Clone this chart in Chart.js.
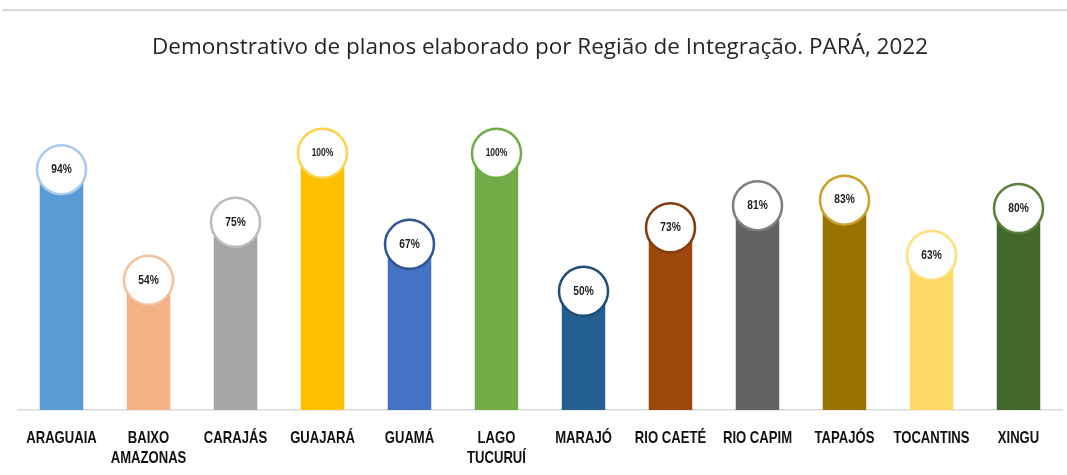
<!DOCTYPE html>
<html>
<head>
<meta charset="utf-8">
<script src="https://cdn.jsdelivr.net/npm/chart.js@4"></script>
<style>
  html, body { margin: 0; padding: 0; background: #fff; }
  #wrap { position: relative; width: 1067px; height: 475px; }
  #topline { position: absolute; left: 2px; right: 0; top: 9px; height: 2px; background: #d9d9d9; }
</style>
</head>
<body>
<div id="wrap">
  <div id="topline"></div>
  <canvas id="chart" width="1067" height="475"></canvas>
</div>
<script>
const regions = [
  "ARAGUAIA", ["BAIXO", "AMAZONAS"], "CARAJÁS", "GUAJARÁ", "GUAMÁ",
  ["LAGO", "TUCURUÍ"], "MARAJÓ", "RIO CAETÉ", "RIO CAPIM", "TAPAJÓS",
  "TOCANTINS", "XINGU"
];
const percentages = [94, 54, 75, 100, 67, 100, 50, 73, 81, 83, 63, 80];

const barColors = [
  "#5B9BD5", "#F4B183", "#A5A5A5", "#FFC000", "#4472C4", "#70AD47",
  "#255E91", "#9E480E", "#636363", "#997300", "#FFD966", "#43682B"
];
const ringColors = [
  "#A9CBEB", "#F2C19E", "#BDBDBD", "#FFD24D", "#2F5597", "#70AD47",
  "#1F4E79", "#843C0C", "#7F7F7F", "#C9A227", "#FFE07A", "#5A7F3A"
];

// white circles with the value, sitting on top of each bar
const bubbles = {
  id: "bubbles",
  afterDatasetsDraw(chart) {
    const ctx = chart.ctx;
    const meta = chart.getDatasetMeta(0);
    meta.data.forEach((bar, i) => {
      ctx.save();
      ctx.beginPath();
      ctx.arc(bar.x, bar.y, 24.5, 0, Math.PI * 2);
      ctx.shadowColor = "rgba(0,0,0,0.15)";
      ctx.shadowBlur = 3;
      ctx.fillStyle = "#fff";
      ctx.fill();
      ctx.shadowColor = "transparent";
      ctx.lineWidth = 2.5;
      ctx.strokeStyle = ringColors[i];
      ctx.stroke();
      const v = percentages[i];
      ctx.translate(bar.x, bar.y);
      ctx.scale(0.85, 1);
      ctx.fillStyle = "#222";
      ctx.font = "bold " + (v >= 100 ? 10 : 12) + "px 'Liberation Sans', sans-serif";
      ctx.textAlign = "center";
      ctx.textBaseline = "middle";
      ctx.fillText(v + "%", 0, 0);
      ctx.restore();
    });
  }
};

// narrow category labels under the axis (no narrow font installed, so squeeze)
const narrowLabels = {
  id: "narrowLabels",
  afterDraw(chart) {
    const ctx = chart.ctx;
    const xs = chart.scales.x;
    const top = chart.chartArea.bottom + 28;
    ctx.save();
    ctx.fillStyle = "#111";
    ctx.font = "bold 17px 'Liberation Sans', sans-serif";
    ctx.textAlign = "center";
    ctx.textBaseline = "middle";
    regions.forEach((lab, i) => {
      const x = xs.getPixelForTick(i);
      const lines = Array.isArray(lab) ? lab : [lab];
      lines.forEach((line, j) => {
        ctx.save();
        ctx.translate(x, top + j * 20);
        ctx.scale(0.77, 1);
        ctx.fillText(line, 0, 0);
        ctx.restore();
      });
    });
    ctx.restore();
  }
};

new Chart(document.getElementById("chart"), {
  type: "bar",
  data: {
    labels: regions,
    datasets: [{
      data: percentages,
      backgroundColor: barColors,
      borderWidth: 0,
      barPercentage: 0.5,
      categoryPercentage: 1
    }]
  },
  options: {
    responsive: false,
    animation: false,
    layout: { padding: { left: 18, right: 5, bottom: 6 } },
    plugins: {
      legend: { display: false },
      tooltip: { enabled: false },
      title: {
        display: true,
        text: "Demonstrativo de planos elaborado por Região de Integração. PARÁ, 2022",
        color: "#262626",
        font: { family: "'Open Sans', sans-serif", size: 22.5, weight: "normal" },
        padding: { top: 34, bottom: 37 }
      }
    },
    scales: {
      x: {
        grid: { display: false, drawTicks: false },
        border: { display: true, color: "#d9d9d9", width: 1.5 },
        ticks: {
          color: "transparent",
          padding: 9.5,
          maxRotation: 0,
          autoSkip: false,
          font: { family: "'Liberation Sans', sans-serif", size: 16, weight: "bold", lineHeight: 1.25 }
        }
      },
      y: {
        display: false,
        min: 7,
        max: 120
      }
    }
  },
  plugins: [bubbles, narrowLabels]
});
</script>
</body>
</html>
